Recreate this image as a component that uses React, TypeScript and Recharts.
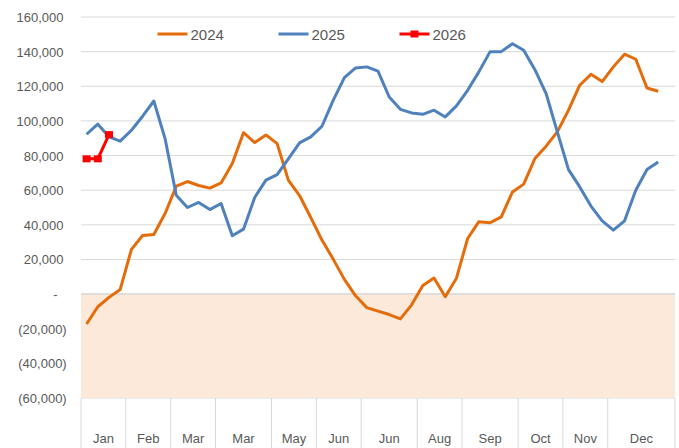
import React from 'react';
import { ComposedChart, Line, XAxis, YAxis, CartesianGrid, ReferenceArea, ReferenceLine } from 'recharts';

// ---- data ----
const monthGroups = ['Jan', 'Feb', 'Mar', 'Mar', 'May', 'Jun', 'Jun', 'Aug', 'Sep', 'Oct', 'Nov', 'Dec'];
const weeksPerGroup = [4, 4, 4, 5, 4, 4, 5, 4, 5, 4, 4, 6];

const values2024 = [
  -17300, -7300, -1900, 2700, 25800, 33800, 34400, 46500, 62300, 65000, 62700, 61200, 64200,
  75400, 93200, 87500, 91900, 86900, 65800, 56900, 44200, 31200, 20200, 8500, -1000, -7800,
  -9800, -11800, -14300, -6200, 5000, 9300, -1500, 9200, 32100, 41800, 41200, 44600, 59000,
  63500, 78300, 85400, 93700, 106200, 120600, 126900, 122700, 131200, 138500, 135600, 119000, 117100,
];
const values2025 = [
  92300, 98100, 90800, 88300, 94600, 102700, 111500, 89800, 57100, 50000, 52900, 48800, 52300,
  33700, 37500, 55800, 65800, 69000, 78100, 87300, 90800, 96900, 111900, 125000, 130600, 131200,
  128800, 113800, 106700, 104600, 103800, 106200, 102300, 108700, 117700, 128300, 140000, 140000, 144600,
  140800, 129600, 115800, 93700, 71900, 61900, 50800, 42300, 36900, 42300, 60000, 71900, 76300,
];
const values2026 = [78100, 78100, 92100];

const yTicks = [-60000, -40000, -20000, 0, 20000, 40000, 60000, 80000, 100000, 120000, 140000, 160000];

const seriesDefs = [
  { key: 'y2024', name: '2024', color: '#E46C0A', marker: false },
  { key: 'y2025', name: '2025', color: '#4F81BD', marker: false },
  { key: 'y2026', name: '2026', color: '#FF0000', marker: true },
];

// ---- layout constants ----
const W = 679;
const H = 448;
const MARGIN = { top: 17, right: 4, bottom: 0, left: 0 };
const Y_AXIS_W = 81;
const X_AXIS_H = 50;
const TOTAL_WEEKS = weeksPerGroup.reduce((a, b) => a + b, 0);
const PLOT_W = W - MARGIN.left - MARGIN.right - Y_AXIS_W;
const BW = PLOT_W / TOTAL_WEEKS;
const TEXT = '#595959';
const GRID = '#D9D9D9';
const FONT = '"Liberation Sans", Arial, sans-serif';

// week index -> group start
const groupStart: Record<number, number> = {};
{
  let acc = 0;
  weeksPerGroup.forEach((n, g) => {
    groupStart[acc] = g;
    acc += n;
  });
}

const data = Array.from({ length: TOTAL_WEEKS }, (_, i) => ({
  week: i,
  y2024: i < values2024.length ? values2024[i] : null,
  y2025: i < values2025.length ? values2025[i] : null,
  y2026: i < values2026.length ? values2026[i] : null,
}));

const fmtY = (v: number) => {
  if (v === 0) return '-';
  const s = Math.abs(v).toLocaleString('en-US');
  return v < 0 ? `(${s})` : s;
};

const YTick = (props: any) => {
  const { x, y, payload } = props;
  const v = payload.value;
  const off = v === 0 ? 23.5 : v < 0 ? 14.3 : 17.5;
  return (
    <text x={x - off} y={y + 5} textAnchor="end" fill={TEXT} fontSize={13} fontFamily={FONT}>
      {fmtY(v)}
    </text>
  );
};

const MonthTick = (props: any) => {
  const { x, y } = props;
  const index = props.index ?? props.payload?.index ?? 0;
  const g = groupStart[index];
  const els: React.ReactNode[] = [];
  if (g !== undefined) {
    els.push(<line key="s" x1={x - BW / 2} x2={x - BW / 2} y1={y} y2={y + X_AXIS_H} stroke={GRID} strokeWidth={1} />);
    els.push(
      <text key="t" x={x - BW / 2 + (weeksPerGroup[g] * BW) / 2} y={y + 44.5} textAnchor="middle" fill={TEXT} fontSize={13} fontFamily={FONT}>
        {monthGroups[g]}
      </text>
    );
  }
  if (index === TOTAL_WEEKS - 1) {
    els.push(<line key="e" x1={x + BW / 2} x2={x + BW / 2} y1={y} y2={y + X_AXIS_H} stroke={GRID} strokeWidth={1} />);
  }
  return <g>{els}</g>;
};

const SquareDot = (props: any) => {
  const { cx, cy, stroke } = props;
  if (cx == null || cy == null) return null;
  return <rect x={cx - 4} y={cy - 3.5} width={8} height={7} fill={stroke} />;
};

const LegendOverlay = () => (
  <svg width={W} height={H} style={{ position: 'absolute', left: 0, top: 0, pointerEvents: 'none' }}>
    {seriesDefs.map((s, i) => {
      const lx = 157.5 + i * 121;
      return (
        <g key={s.key}>
          <line x1={lx} x2={lx + 30} y1={34} y2={34} stroke={s.color} strokeWidth={3} />
          {s.marker && <rect x={lx + 11} y={30.5} width={8} height={7} fill={s.color} />}
          <text x={lx + 33} y={40} fill={TEXT} fontSize={15} fontFamily={FONT}>
            {s.name}
          </text>
        </g>
      );
    })}
  </svg>
);

export default function App() {
  return (
    <div style={{ position: 'absolute', left: 0, top: 0, width: W, height: H, background: '#fff', fontFamily: FONT }}>
      <ComposedChart width={W} height={H} data={data} margin={MARGIN}>
        <CartesianGrid horizontal vertical={false} stroke={GRID} />
        <ReferenceArea y1={-60000} y2={0} fill="#FDE9D9" fillOpacity={1} stroke="none" />
        <ReferenceLine y={0} stroke={GRID} strokeWidth={1.5} />
        <XAxis
          dataKey="week"
          type="category"
          scale="band"
          interval={0}
          height={X_AXIS_H}
          tickLine={false}
          axisLine={false}
          tickSize={0}
          tickMargin={0}
          tick={<MonthTick />}
        />
        <YAxis
          type="number"
          domain={[-60000, 160000]}
          ticks={yTicks}
          width={Y_AXIS_W}
          tickLine={false}
          axisLine={false}
          tickSize={0}
          tickMargin={0}
          interval={0}
          tick={<YTick />}
        />
        {seriesDefs.map((s) => (
          <Line
            key={s.key}
            dataKey={s.key}
            name={s.name}
            type="linear"
            stroke={s.color}
            strokeWidth={3}
            strokeLinejoin="round"
            dot={s.marker ? <SquareDot /> : false}
            activeDot={false}
            isAnimationActive={false}
            connectNulls={false}
          />
        ))}
      </ComposedChart>
      <LegendOverlay />
    </div>
  );
}
